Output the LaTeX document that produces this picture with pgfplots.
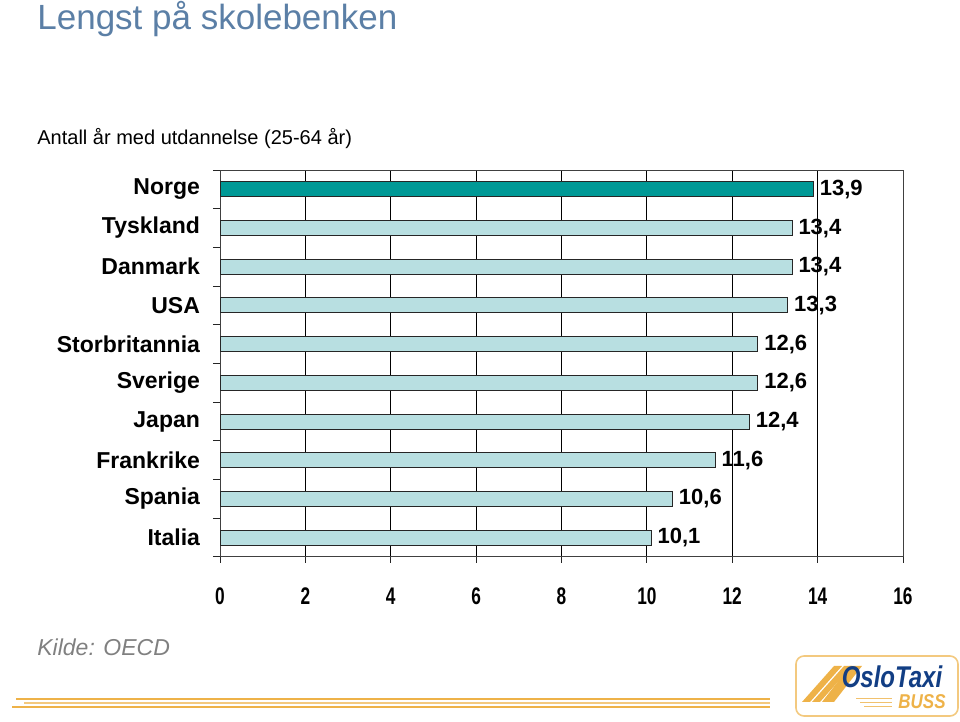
\documentclass[border=0pt]{standalone}
\usepackage{fontspec}
\setmainfont{Liberation Sans}
\usepackage{pgfplots}
\pgfplotsset{compat=1.18}

\definecolor{titleblue}{RGB}{91,127,166}
\definecolor{barteal}{RGB}{0,153,150}
\definecolor{barlight}{RGB}{184,223,225}
\definecolor{decor}{RGB}{238,178,72}
\definecolor{logoblue}{RGB}{18,62,132}

\begin{document}
\begin{tikzpicture}[x=1pt,y=1pt]
\path[use as bounding box] (0,0) rectangle (480,361);

% headings
\node[anchor=base west,inner sep=0,text=titleblue,font=\fontsize{17.5}{20}\selectfont] at (18.5,346) {Lengst på skolebenken};
\node[anchor=base west,inner sep=0,font=\fontsize{10}{12}\selectfont] at (18.5,288.5) {Antall år med utdannelse (25-64 år)};

\begin{axis}[
    at={(110pt,82.5pt)}, anchor=south west,
    scale only axis, width=341.5pt, height=193.5pt,
    xbar, bar width=7.5pt, bar shift=0pt,
    xmin=0, xmax=16, ymin=-0.5, ymax=9.5,
    y dir=reverse,
    xtick={0,2,...,16},
    ytick={0,1,...,9},
    yticklabels={Norge,Tyskland,Danmark,USA,Storbritannia,Sverige,Japan,Frankrike,Spania,Italia},
    minor ytick={-0.5,0.5,...,9.5},
    tick align=outside, tick pos=left,
    ytick style={draw=none},
    minor tick length=3.5pt,
    major tick length=3pt,
    minor y tick style={draw=black!85,line width=0.5pt},
    xtick style={draw=black!85,line width=0.5pt},
    xmajorgrids, grid style={black,line width=0.5pt},
    axis line style={black!75,line width=0.5pt},
    /pgf/number format/assume math mode=true,
    yticklabel style={font=\bfseries\fontsize{11.5}{12}\selectfont,xshift=-3.5pt},
    xticklabel style={font=\bfseries\fontsize{12}{12}\selectfont,xscale=0.72,yshift=-9pt},
    point meta=x,
    nodes near coords={\pgfmathprintnumber[assume math mode=true,use comma,fixed,fixed zerofill,precision=1]{\pgfplotspointmeta}},
    nodes near coords style={font=\bfseries\fontsize{11}{12}\selectfont,anchor=west,inner sep=3pt},
]
\addplot[fill=barteal,draw=black!85,line width=0.5pt] coordinates {(13.9,0)};
\addplot[fill=barlight,draw=black!85,line width=0.5pt] coordinates {
    (13.4,1) (13.4,2) (13.3,3) (12.6,4) (12.6,5) (12.4,6) (11.6,7) (10.6,8) (10.1,9)};
\end{axis}

% source
\node[anchor=base west,inner sep=0,text=black!50,font=\itshape\fontsize{11.5}{12}\selectfont] at (18.5,33) {Kilde: OECD};

% decorative lines at the bottom
\draw[decor,line width=0.9pt] (8,11.5) -- (385,11.5);
\draw[decor!70,line width=0.6pt] (12,9.5) -- (385,9.5);
\draw[decor,line width=0.9pt] (6,7.5) -- (385,7.5);

% logo
\draw[decor!70,line width=0.8pt,rounded corners=4pt] (398,3) rectangle (479,33);
\fill[decor] (401,10) -- (405,10) -- (421,28) -- (417,28) -- cycle;
\fill[decor] (406,10) -- (410,10) -- (426,28) -- (422,28) -- cycle;
\fill[decor] (411,10) -- (417,10) -- (431,28) -- (425,28) -- cycle;
\node[text=logoblue,font=\bfseries\itshape\fontsize{15}{15}\selectfont,xscale=0.8,inner sep=0] at (446,22.5) {OsloTaxi};
\node[text=decor,font=\bfseries\itshape\fontsize{10}{10}\selectfont,xscale=0.85,inner sep=0] at (461,10) {BUSS};
\draw[decor!80,line width=0.4pt] (428,12) -- (446,12) (430,10) -- (446,10) (432,8) -- (446,8);
\end{tikzpicture}
\end{document}
